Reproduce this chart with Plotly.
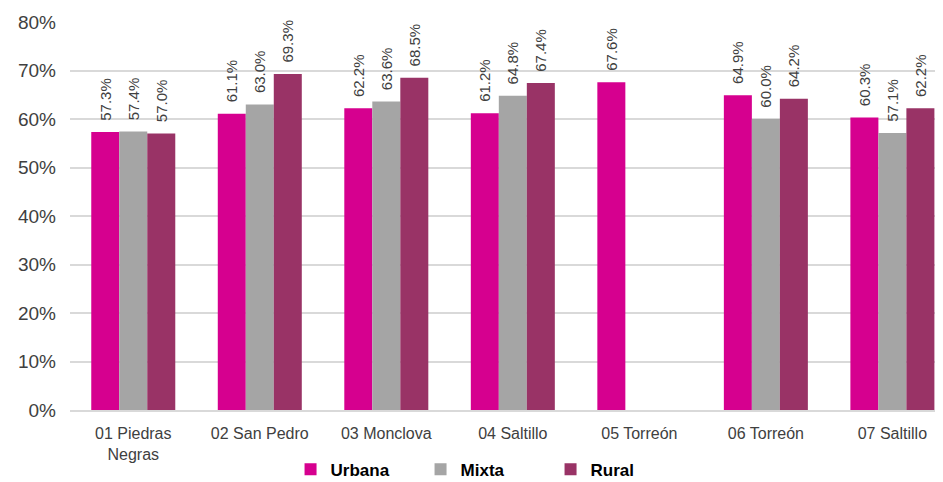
import plotly.graph_objects as go

# Categories and series values (share of total, 0-1)
categorias = ["01 Piedras<br>Negras", "02 San Pedro", "03 Monclova", "04 Saltillo",
              "05 Torreón", "06 Torreón", "07 Saltillo"]
urbana = [0.573, 0.611, 0.622, 0.612, 0.676, 0.649, 0.603]
mixta = [0.574, 0.630, 0.636, 0.648, None, 0.600, 0.571]
rural = [0.570, 0.693, 0.685, 0.674, None, 0.642, 0.622]

series = [
    ("Urbana", urbana, "#D6008F"),
    ("Mixta", mixta, "#A5A5A5"),
    ("Rural", rural, "#993366"),
]

fig = go.Figure()
for nombre, valores, color in series:
    fig.add_trace(go.Bar(
        x=categorias,
        y=valores,
        name=nombre,
        marker=dict(color=color, line=dict(width=0)),
        # leading no-break spaces give the gap between bar top and label
        text=[f"\u00a0\u00a0{v * 100:.1f}%" if v is not None else "" for v in valores],
        textposition="outside",
        textangle=-90,
        textfont=dict(family="Liberation Sans, Arial", size=15, color="#404040"),
        cliponaxis=False,
    ))

# the page body has an 8px margin, so the figure is sized to fit the window;
# the original plot area runs past the right edge, hence the cut x range
fig.update_layout(
    width=935,
    height=474,
    barmode="group",
    bargap=0.336,
    bargroupgap=0,
    plot_bgcolor="white",
    paper_bgcolor="white",
    font=dict(family="Liberation Sans, Arial", color="#404040"),
    margin=dict(l=62, r=0, t=14, b=72),
    uniformtext=dict(minsize=15, mode="show"),
    legend=dict(
        orientation="h",
        x=0.476, xanchor="center",
        yref="container",
        y=0.026, yanchor="middle",
        font=dict(size=17, color="#000000", family="Liberation Sans, Arial", weight="bold"),
        itemwidth=30,
        entrywidth=85,
        traceorder="normal",
    ),
    xaxis=dict(
        automargin=False,
        range=[-0.5, 6.40],
        tickfont=dict(size=16, color="#404040"),
        showline=True,
        linecolor="#D9D9D9",
        linewidth=1.5,
        ticks="",
        ticklabelstandoff=8,
    ),
    yaxis=dict(
        automargin=False,
        range=[0, 0.8],
        dtick=0.1,
        tickformat=".0%",
        tickfont=dict(size=19, color="#404040"),
        showgrid=True,
        gridcolor="#D9D9D9",
        gridwidth=1.5,
        zeroline=False,
        ticks="",
        ticklabelstandoff=13,
    ),
)

fig.write_html("out.html")
